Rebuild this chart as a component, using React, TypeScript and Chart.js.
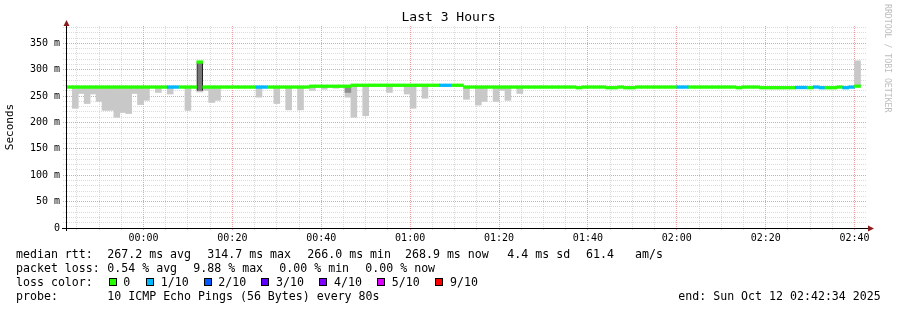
import React, { useEffect, useRef } from 'react';
import { Chart, registerables } from 'chart.js';

Chart.register(...registerables);

const FONT = "'DejaVu Sans Mono', monospace";

// ---------- texts ----------
const TITLE = 'Last 3 Hours';
const Y_TITLE = 'Seconds';
const WATERMARK = 'RRDTOOL / TOBI OETIKER';

// ---------- time axis (minutes relative to 00:00, Oct 12) ----------
const AXIS_START_MIN = -17 - 26 / 60; // 23:42:34
const AXIS_END_MIN = 162 + 34 / 60; // 02:42:34
const FIRST_STEP_MIN = -17 - 20 / 60; // first 80 s step starts 23:42:40
const STEP_MIN = 80 / 60;
const X_TICKS = [-15, -10, -5, 0, 5, 10, 15, 20, 25, 30, 35, 40, 45, 50, 55, 60, 65, 70, 75, 80, 85, 90, 95, 100, 105, 110, 115, 120, 125, 130, 135, 140, 145, 150, 155, 160];
const X_LABEL_EVERY = 20;

// ---------- value axis (ms) ----------
const Y_MAX = 383;
const Y_TICKS = [0, 10, 20, 30, 40, 50, 60, 70, 80, 90, 100, 110, 120, 130, 140, 150, 160, 170, 180, 190, 200, 210, 220, 230, 240, 250, 260, 270, 280, 290, 300, 310, 320, 330, 340, 350, 360, 370, 380];
const Y_LABEL_EVERY = 50;

// ---------- median rtt per 80 s step (ms) ----------
const medianMs = [
  267.2, 267.2, 267.2, 267.2, 267.2, 267.2, 267.2, 267.2, 267.2, 267.2,
  267.2, 267.2, 267.2, 267.2, 267.2, 267.2, 267.2, 267.2, 267.2, 267.2,
  267.2, 267.2, 314.7, 267.2, 267.2, 267.2, 267.2, 267.2, 267.2, 267.2,
  267.2, 267.2, 267.2, 267.2, 267.2, 267.2, 267.2, 267.2, 267.2, 267.2,
  267.2, 268.8, 268.8, 268.8, 268.8, 268.8, 268.8, 268.8, 270.6, 270.6,
  270.6, 270.6, 270.6, 270.6, 270.6, 270.6, 270.6, 270.6, 270.6, 270.6,
  270.6, 270.6, 270.6, 270.6, 270.6, 270.6, 270.6, 267.2, 267.2, 267.2,
  267.2, 267.2, 267.2, 267.2, 267.2, 267.2, 267.2, 267.2, 267.2, 267.2,
  267.2, 267.2, 267.2, 267.2, 267.2, 267.2, 266.0, 267.2, 267.2, 267.2,
  267.2, 266.0, 266.0, 267.2, 266.0, 266.0, 267.2, 267.2, 267.2, 267.2,
  267.2, 267.2, 267.2, 267.2, 267.2, 267.2, 267.2, 267.2, 267.2, 267.2,
  267.2, 267.2, 267.2, 266.0, 267.2, 267.2, 267.2, 266.0, 266.0, 266.0,
  266.0, 266.0, 266.0, 266.4, 266.4, 266.0, 267.2, 266.0, 266.0, 266.0,
  267.2, 266.0, 267.2, 268.9,
];

// packet loss per step, in tenths (10 pings)
const lossTenths = [
  0, 0, 0, 0, 0, 0, 0, 0, 0, 0,
  0, 0, 0, 0, 0, 0, 0, 1, 1, 0,
  0, 0, 0, 0, 0, 0, 0, 0, 0, 0,
  0, 0, 1, 1, 0, 0, 0, 0, 0, 0,
  0, 0, 0, 0, 0, 0, 0, 0, 0, 0,
  0, 0, 0, 0, 0, 0, 0, 0, 0, 0,
  0, 0, 0, 1, 1, 0, 0, 0, 0, 0,
  0, 0, 0, 0, 0, 0, 0, 0, 0, 0,
  0, 0, 0, 0, 0, 0, 0, 0, 0, 0,
  0, 0, 0, 0, 0, 0, 0, 0, 0, 0,
  0, 0, 0, 1, 1, 0, 0, 0, 0, 0,
  0, 0, 0, 0, 0, 0, 0, 0, 0, 0,
  0, 0, 0, 1, 1, 0, 1, 1, 0, 0,
  0, 1, 1, 0,
];

// smoke (ping spread) per step: step index, low and high rtt (ms)
const smokeSteps = [1, 2, 3, 4, 5, 6, 7, 8, 9, 10, 11, 12, 13, 15, 17, 20, 22, 23, 24, 25, 32, 35, 37, 39, 41, 43, 45, 47, 48, 50, 54, 57, 58, 60, 67, 69, 70, 72, 73, 74, 76, 133];
const smokeLowMs = [227, 255, 236, 254, 240, 223, 223, 210, 219, 217, 255, 234, 242, 257, 254, 223, 258, 261, 238, 242, 248, 236, 224, 224, 261, 263, 265, 248, 210, 213, 257, 254, 227, 246, 244, 233, 240, 240, 261, 242, 255, 269];
const smokeHighMs = [267.2, 267.2, 267.2, 267.2, 267.2, 267.2, 267.2, 267.2, 267.2, 267.2, 267.2, 267.2, 267.2, 267.2, 267.2, 267.2, 267.2, 267.2, 267.2, 267.2, 267.2, 267.2, 267.2, 267.2, 268.8, 268.8, 268.8, 268.8, 270.6, 270.6, 270.6, 270.6, 270.6, 270.6, 267.2, 267.2, 267.2, 267.2, 267.2, 267.2, 267.2, 317];

// dense smoke (most pings inside this band)
const denseSteps = [22, 47];
const denseLowMs = [260, 257];
const denseHighMs = [314.7, 268.8];

// ---------- legend ----------
const RTT_LABEL = 'median rtt:';
const RTT_STATS = ['267.2 ms avg', '314.7 ms max', '266.0 ms min', '268.9 ms now', '4.4 ms sd', '61.4', 'am/s'];
const LOSS_LABEL = 'packet loss:';
const LOSS_STATS = ['0.54 % avg', '9.88 % max', '0.00 % min', '0.00 % now'];
const COLOR_LABEL = 'loss color:';
const LOSS_NAMES = ['0', '1/10', '2/10', '3/10', '4/10', '5/10', '9/10'];
const LOSS_COLORS = ['#26ff00', '#00b8ff', '#0059ff', '#5e00ff', '#7e00ff', '#dd00ff', '#ff0000'];
const PROBE_LABEL = 'probe:';
const PROBE_TEXT = '10 ICMP Echo Pings (56 Bytes) every 80s';
const END_TEXT = 'end: Sun Oct 12 02:42:34 2025';

// ---------- layout / style ----------
const W = 897;
const H = 310;
const LINE_HALF_MS = 2.5;
const SMOKE_COLOR = '#c8c8c8';
const MINOR_GRID = 'rgba(190,190,190,0.55)';
const MAJOR_GRID = 'rgba(228,120,120,0.7)';
const ARROW_COLOR = '#8b1c1c';
const TEXT_SIZE = 11.6;
const ROW_TOPS = [247.3, 261.3, 275.3, 289.3];
const COL_X = 107.3;
const RTT_X = [107.3, 207.3, 307.3, 405, 507.3, 586, 635];
const LOSS_X = [107.3, 193.3, 279.3, 365.3];
const SWATCH_X = [108.5, 146, 203.5, 261, 319, 376.5, 434.5];
const SWATCH_LABEL_X = [123.3, 160.7, 218.3, 276, 334, 391.7, 450];
const END_X = 678.3;

function lossColor(t: number): string {
  return LOSS_COLORS[Math.min(t, 6)];
}

function stepCenter(i: number): number {
  return FIRST_STEP_MIN + (i + 0.5) * STEP_MIN;
}

function fmtTime(v: number): string {
  const m = ((v % 1440) + 1440) % 1440;
  const hh = Math.floor(m / 60);
  const mm = Math.round(m % 60);
  return `${String(hh).padStart(2, '0')}:${String(mm).padStart(2, '0')}`;
}

const axisDecor = {
  id: 'axisDecor',
  afterDraw(chart: any) {
    const { ctx, chartArea } = chart;
    const { left, right, top, bottom } = chartArea;
    const ax = Math.round(left) + 0.5;
    const ay = Math.round(bottom) + 0.5;
    ctx.save();
    ctx.strokeStyle = '#000';
    ctx.lineWidth = 1;
    ctx.beginPath();
    ctx.moveTo(left - 4, ay);
    ctx.lineTo(right + 3, ay);
    ctx.moveTo(ax, bottom + 3);
    ctx.lineTo(ax, top - 2);
    ctx.stroke();
    ctx.fillStyle = ARROW_COLOR;
    ctx.beginPath();
    ctx.moveTo(ax - 3, top);
    ctx.lineTo(ax + 3, top);
    ctx.lineTo(ax, top - 6);
    ctx.closePath();
    ctx.fill();
    ctx.beginPath();
    ctx.moveTo(right + 2, ay - 3);
    ctx.lineTo(right + 2, ay + 3);
    ctx.lineTo(right + 8, ay);
    ctx.closePath();
    ctx.fill();
    ctx.restore();
  },
};

const textStyle: React.CSSProperties = {
  position: 'absolute',
  fontFamily: FONT,
  fontSize: TEXT_SIZE,
  lineHeight: '14px',
  color: '#000',
  whiteSpace: 'pre',
};

function T({ x, y, children }: { x: number; y: number; children: React.ReactNode }) {
  return <div style={{ ...textStyle, left: x, top: y }}>{children}</div>;
}

export default function App() {
  const canvasRef = useRef<HTMLCanvasElement>(null);

  useEffect(() => {
    document.body.style.margin = '0';
    const canvas = canvasRef.current;
    if (!canvas) return;

    const medianData = medianMs.map((m, i) => ({ x: stepCenter(i), y: [m - LINE_HALF_MS, m + LINE_HALF_MS] }));
    const smokeData = smokeSteps.map((s, k) => ({ x: stepCenter(s), y: [smokeLowMs[k], smokeHighMs[k]] }));
    const denseData = denseSteps.map((s, k) => ({ x: stepCenter(s), y: [denseLowMs[k], denseHighMs[k]] }));

    const barCommon = {
      grouped: false,
      barPercentage: 1,
      categoryPercentage: 1,
    };

    const chart = new Chart(canvas, {
      type: 'bar',
      data: {
        datasets: [
          {
            label: 'smoke',
            data: smokeData as any,
            backgroundColor: SMOKE_COLOR,
            borderWidth: 0,
            order: 3,
            ...barCommon,
          },
          {
            label: 'dense smoke',
            data: denseData as any,
            backgroundColor: (c: any) => {
              const r = c.raw;
              return r && r.y[1] - r.y[0] > 30 ? '#777777' : '#8e8e8e';
            },
            borderColor: '#1a1a1a',
            borderWidth: (c: any) => {
              const r = c.raw;
              return r && r.y[1] - r.y[0] > 30 ? 1 : 0;
            },
            order: 2,
            ...barCommon,
          },
          {
            label: 'median rtt',
            data: medianData as any,
            backgroundColor: medianMs.map((_, i) => lossColor(lossTenths[i])),
            borderWidth: 0,
            order: 1,
            ...barCommon,
          },
        ],
      },
      options: {
        responsive: false,
        animation: false,
        devicePixelRatio: 1,
        layout: { padding: 0 },
        plugins: {
          legend: { display: false },
          tooltip: { enabled: false },
          title: {
            display: true,
            text: TITLE,
            color: '#000',
            font: { family: FONT, size: 13, weight: 'normal', lineHeight: '16px' } as any,
            padding: { top: 10, bottom: 0 },
          },
        },
        scales: {
          x: {
            type: 'linear',
            min: AXIS_START_MIN,
            max: AXIS_END_MIN,
            offset: false,
            afterBuildTicks: (s: any) => {
              s.ticks = X_TICKS.map((v) => ({ value: v }));
            },
            afterFit: (s: any) => {
              s.height = 82;
            },
            grid: {
              offset: false,
              lineWidth: 1,
              color: (c: any) => (c.tick && c.tick.value % X_LABEL_EVERY === 0 ? MAJOR_GRID : MINOR_GRID),
              tickColor: (c: any) => (c.tick && c.tick.value % X_LABEL_EVERY === 0 ? MAJOR_GRID : MINOR_GRID),
              drawTicks: true,
              tickLength: 2,
            },
            border: { display: true, color: '#000', width: 1, dash: [1, 1] },
            ticks: {
              autoSkip: false,
              maxRotation: 0,
              minRotation: 0,
              padding: 2,
              color: '#000',
              font: { family: FONT, size: 10 },
              callback: (v: any) => (Number(v) % X_LABEL_EVERY === 0 ? fmtTime(Number(v)) : ''),
            },
          },
          y: {
            type: 'linear',
            min: 0,
            max: Y_MAX,
            afterBuildTicks: (s: any) => {
              s.ticks = Y_TICKS.map((v) => ({ value: v }));
            },
            afterFit: (s: any) => {
              s.width = 66;
            },
            grid: {
              lineWidth: 1,
              color: (c: any) => {
                const v = c.tick ? c.tick.value : 1;
                if (v === 0) return 'rgba(0,0,0,0)';
                return v % Y_LABEL_EVERY === 0 ? MAJOR_GRID : MINOR_GRID;
              },
              tickColor: (c: any) => {
                const v = c.tick ? c.tick.value : 1;
                if (v === 0) return 'rgba(0,0,0,0)';
                return v % Y_LABEL_EVERY === 0 ? MAJOR_GRID : MINOR_GRID;
              },
              drawTicks: true,
              tickLength: 3,
              tickBorderDash: [1, 1],
            },
            border: { display: true, color: '#000', width: 1, dash: [1, 1] },
            ticks: {
              autoSkip: false,
              padding: 3,
              color: '#000',
              font: { family: FONT, size: 10 },
              callback: (v: any) => {
                const n = Number(v);
                if (n === 0) return '0';
                return n % Y_LABEL_EVERY === 0 ? `${n} m` : '';
              },
            },
            title: {
              display: true,
              text: Y_TITLE,
              color: '#000',
              font: { family: FONT, size: 11, lineHeight: '12px' } as any,
              padding: { top: 4, bottom: 0 },
            },
          },
          yRight: {
            type: 'linear',
            axis: 'y',
            position: 'right',
            display: true,
            afterFit: (s: any) => {
              s.width = 31;
            },
            grid: { display: false },
            border: { display: false },
            ticks: { display: false },
          } as any,
        },
      },
      plugins: [axisDecor],
    } as any);

    return () => chart.destroy();
  }, []);

  return (
    <div style={{ position: 'relative', width: W, height: H, background: '#fff', overflow: 'hidden' }}>
      <canvas ref={canvasRef} width={W} height={H} style={{ display: 'block', width: W, height: H }} />
      <div
        style={{
          position: 'absolute',
          left: 882.5,
          top: 4,
          width: 10,
          writingMode: 'vertical-rl',
          fontFamily: FONT,
          fontSize: 8.2,
          lineHeight: '10px',
          color: '#bdbdbd',
          whiteSpace: 'pre',
        }}
      >
        {WATERMARK}
      </div>

      <T x={16} y={ROW_TOPS[0]}>{RTT_LABEL}</T>
      {RTT_STATS.map((s, i) => (
        <T key={'r' + i} x={RTT_X[i]} y={ROW_TOPS[0]}>{s}</T>
      ))}

      <T x={16} y={ROW_TOPS[1]}>{LOSS_LABEL}</T>
      {LOSS_STATS.map((s, i) => (
        <T key={'l' + i} x={LOSS_X[i]} y={ROW_TOPS[1]}>{s}</T>
      ))}

      <T x={16} y={ROW_TOPS[2]}>{COLOR_LABEL}</T>
      {LOSS_NAMES.map((s, i) => (
        <React.Fragment key={'c' + i}>
          <div
            style={{
              position: 'absolute',
              left: SWATCH_X[i],
              top: ROW_TOPS[2] + 3,
              width: 8,
              height: 8,
              boxSizing: 'border-box',
              border: '1px solid #000',
              background: LOSS_COLORS[i],
            }}
          />
          <T x={SWATCH_LABEL_X[i]} y={ROW_TOPS[2]}>{s}</T>
        </React.Fragment>
      ))}

      <T x={16} y={ROW_TOPS[3]}>{PROBE_LABEL}</T>
      <T x={COL_X} y={ROW_TOPS[3]}>{PROBE_TEXT}</T>
      <T x={END_X} y={ROW_TOPS[3]}>{END_TEXT}</T>
    </div>
  );
}
